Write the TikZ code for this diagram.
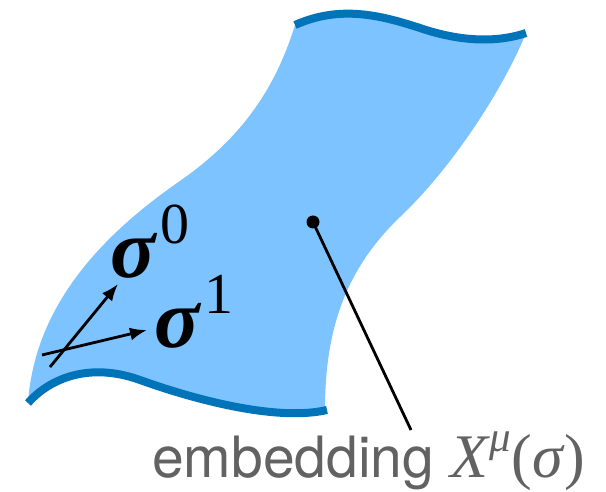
\RequirePackage{fix-cm}
\documentclass[tikz,border=0pt]{standalone}
\usepackage{fontspec}
\setmainfont{TeX Gyre Heros}
\newfontfamily\timesfont{Liberation Serif}
\usetikzlibrary{arrows.meta}
\definecolor{sheetblue}{RGB}{125,195,255}
\definecolor{rimblue}{RGB}{0,115,185}
\definecolor{labelgray}{RGB}{98,98,98}
\newcommand{\bigsig}[1]{{\timesfont\fontsize{84}{86}\selectfont\bfseries\itshape σ\kern5pt\raisebox{34pt}{\fontsize{58}{60}\selectfont\mdseries\upshape #1}}}
\tikzset{
  sheet/.style={fill=sheetblue},
  rim/.style={draw=rimblue,line width=8pt},
  tangent/.style={line width=2.8pt,-{Latex[length=17pt,width=13pt]}},
  leader/.style={line width=2.8pt}
}
\begin{document}
\begin{tikzpicture}[x=1pt,y=-1pt]
  \useasboundingbox (0,0) rectangle (606,492);
  \fill[sheet] (28,403) .. controls (35,300) and (110,230) .. (177,183)
    .. controls (240,140) and (275,90) .. (295,25)
    .. controls (340,5) and (380,15) .. (420,28)
    .. controls (470,45) and (505,40) .. (526,33)
    .. controls (505,85) and (455,165) .. (400,217)
    .. controls (345,270) and (325,330) .. (325,410)
    .. controls (275,422) and (190,398) .. (140,380)
    .. controls (90,362) and (50,378) .. (28,403) -- cycle;
  \draw[rim] (295,25) .. controls (340,5) and (380,15) .. (420,28)
    .. controls (470,45) and (505,40) .. (526,33);
  \draw[rim] (28,403) .. controls (50,378) and (90,362) .. (140,380)
    .. controls (190,398) and (275,422) .. (327,410);
  \node[anchor=base west,inner sep=0pt] (sig0) at (110,277) {\bigsig{0}};
  \node[anchor=base west,inner sep=0pt] (sig1) at (154,347) {\bigsig{1}};
  \coordinate (o0) at (50,367);
  \coordinate (o1) at (42,355);
  \coordinate (t0) at (118,284);
  \coordinate (t1) at (147,330);
  \draw[tangent] (o0) -- (t0);
  \draw[tangent] (o1) -- (t1);
  \node[circle,fill=black,inner sep=0pt,minimum size=13pt] (pt) at (313,222) {};
  \node[anchor=base west,inner sep=0pt,text=labelgray] (emb) at (152,477) {\fontsize{57}{60}\selectfont embedding {\timesfont\fontsize{62}{64}\selectfont\textit{X}\raisebox{26pt}{\fontsize{43}{46}\selectfont\textit{μ}}(\textit{σ})}};
  \coordinate (lend) at (411,430);
  \draw[leader] (pt.center) -- (lend);
\end{tikzpicture}
\end{document}
